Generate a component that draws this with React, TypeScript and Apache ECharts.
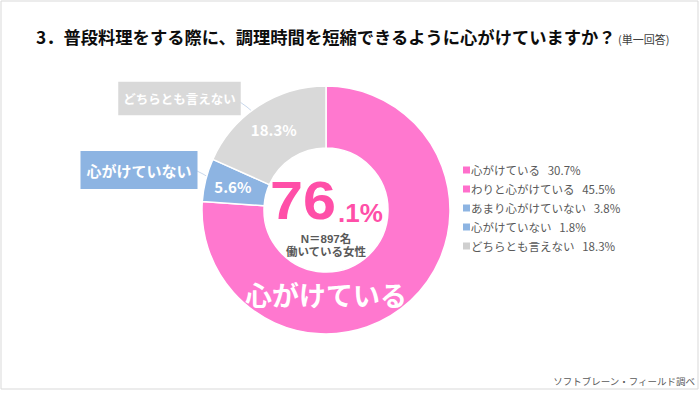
import React, { useEffect, useRef } from "react";
import * as echarts from "echarts";

const categories = ["心がけている", "わりと心がけている", "あまり心がけていない", "心がけていない", "どちらとも言えない"];
const values = [30.7, 45.5, 3.8, 1.8, 18.3];
const categoryColors = ["#FF6FCC", "#FF6FCC", "#8DB4E2", "#8DB4E2", "#CFCFCF"];

const groupNames = ["心がけている", "心がけていない", "どちらとも言えない"];
const groupValues = [76.1, 5.6, 18.3];
const groupColors = ["#FF78CF", "#8DB4E2", "#D9D9D9"];

const titleText = "3．普段料理をする際に、調理時間を短縮できるように心がけていますか？";
const titleNote = "(単一回答)";
const centerMain = "76";
const centerDec = ".1%";
const sampleLines = ["N＝897名", "働いている女性"];
const sourceText = "ソフトブレーン・フィールド調べ";

const JP = "'Noto Sans CJK JP', 'Noto Sans', sans-serif";
const LAT = "'Liberation Sans', 'Noto Sans', sans-serif";
const MIX = "'Liberation Sans', 'Noto Sans CJK JP', sans-serif";

export default function App() {
  const ref = useRef<HTMLDivElement>(null);
  useEffect(() => {
    if (!ref.current) return;
    const chart = echarts.init(ref.current, undefined, { renderer: "svg" });
    const center = [326, 210];
    const radius = [62, 124];
    const calloutPos: Record<number, [number, number]> = { 1: [139, 170], 2: [179.5, 98.5] };
    const linePts: Record<number, number[][]> = {
      1: [[208, 177], [203, 174], [197, 171]],
      2: [[254, 113], [247, 107], [240, 102]],
    };
    chart.setOption({
      animation: false,
      backgroundColor: "#ffffff",
      title: {
        text: `{a|${titleText}}{b|${titleNote}}`,
        left: 31,
        top: 23,
        textStyle: {
          rich: {
            a: { fontSize: 17.3, fontWeight: "bold", color: "#0d0d0d", fontFamily: JP },
            b: { fontSize: 11, fontWeight: "normal", color: "#404040", fontFamily: JP, padding: [5, 0, 0, 2] },
          },
        },
      },
      legend: {
        orient: "vertical",
        left: 458,
        top: 159,
        icon: "rect",
        itemWidth: 7,
        itemHeight: 7,
        itemGap: 7,
        data: categories.map((c) => ({ name: c })),
        formatter: (name: string) => {
          const i = categories.indexOf(name);
          return `${name}\u00a0\u00a0\u00a0${values[i]}%`;
        },
        textStyle: { fontSize: 11.5, lineHeight: 12, color: "#595959", fontFamily: JP, padding: [0, 0, 0, -4] },
        selectedMode: false,
      },
      series: [
        {
          type: "pie",
          name: "legend",
          center: [-100, -100],
          radius: [0, 0],
          silent: true,
          label: { show: false },
          labelLine: { show: false },
          data: categories.map((c, i) => ({ name: c, value: values[i], itemStyle: { color: categoryColors[i] } })),
        },
        {
          type: "pie",
          center,
          radius,
          startAngle: 90,
          clockwise: true,
          silent: true,
          legendHoverLink: false,
          itemStyle: { borderColor: "#ffffff", borderWidth: 1.5 },
          label: {
            show: true,
            position: "inside",
            color: "#ffffff",
            fontWeight: "bold",
            fontSize: 15,
            fontFamily: JP,
            formatter: (p: any) => `${p.value}%`,
          },
          labelLine: { show: false },
          data: groupNames.map((n, i) => ({
            name: n,
            value: groupValues[i],
            itemStyle: { color: groupColors[i] },
            label: i === 0 ? { show: false } : undefined,
          })),
        },
        {
          type: "pie",
          center,
          radius,
          startAngle: 90,
          clockwise: true,
          silent: true,
          legendHoverLink: false,
          itemStyle: { color: "transparent" },
          label: {
            show: true,
            position: "outside",
            color: "#ffffff",
            fontWeight: "bold",
            fontFamily: JP,
            overflow: "none",
            formatter: (p: any) => p.name,
          },
          labelLine: { show: true, lineStyle: { color: "#C9D8EC", width: 1 } },
          labelLayout: (p: any) => {
            const pos = calloutPos[p.dataIndex];
            if (!pos) return {};
            return { x: pos[0], y: pos[1], align: "center", verticalAlign: "middle", labelLinePoints: linePts[p.dataIndex] };
          },
          data: groupNames.map((n, i) => ({
            name: n,
            value: groupValues[i],
            label:
              i === 0
                ? { show: false }
                : i === 1
                ? { backgroundColor: groupColors[i], fontSize: 15, padding: [12, 6, 11, 6] }
                : { backgroundColor: groupColors[i], fontSize: 12.5, padding: [11, 5, 10, 5] },
            labelLine: i === 0 ? { show: false } : undefined,
          })),
        },
      ],
      graphic: [
        {
          type: "rect",
          silent: true,
          z: 100,
          shape: { x: 1, y: 1, width: 697, height: 388 },
          style: { fill: "none", stroke: "#D9D9D9", lineWidth: 1 },
        },
        {
          type: "text",
          silent: true,
          z: 100,
          x: 336,
          y: 201,
          scaleX: 1.12,
          style: {
            text: centerMain,
            fill: "#FF4FA8",
            fontSize: 53,
            fontWeight: "bold",
            fontFamily: LAT,
            align: "right",
            verticalAlign: "middle",
          },
        },
        {
          type: "text",
          silent: true,
          z: 100,
          x: 338,
          y: 213,
          style: {
            text: centerDec,
            fill: "#FF4FA8",
            fontSize: 26,
            fontWeight: "bold",
            fontFamily: LAT,
            align: "left",
            verticalAlign: "middle",
          },
        },
        {
          type: "text",
          silent: true,
          z: 100,
          x: 326,
          y: 245,
          style: {
            text: sampleLines.join("\n"),
            fill: "#595959",
            fontSize: 11.5,
            lineHeight: 13,
            fontWeight: "bold",
            fontFamily: MIX,
            align: "center",
            verticalAlign: "middle",
          },
        },
        {
          type: "text",
          silent: true,
          z: 100,
          x: 326,
          y: 294,
          style: { text: groupNames[0], fill: "#ffffff", fontSize: 27, fontWeight: "bold", fontFamily: JP, align: "center", verticalAlign: "middle" },
        },
        {
          type: "text",
          silent: true,
          z: 100,
          x: 695,
          y: 381,
          style: { text: sourceText, fill: "#595959", fontSize: 9.5, fontFamily: JP, align: "right", verticalAlign: "middle" },
        },
      ],
    });
    return () => chart.dispose();
  }, []);
  return <div ref={ref} style={{ position: "fixed", left: 0, top: 0, width: 700, height: 393 }} />;
}
